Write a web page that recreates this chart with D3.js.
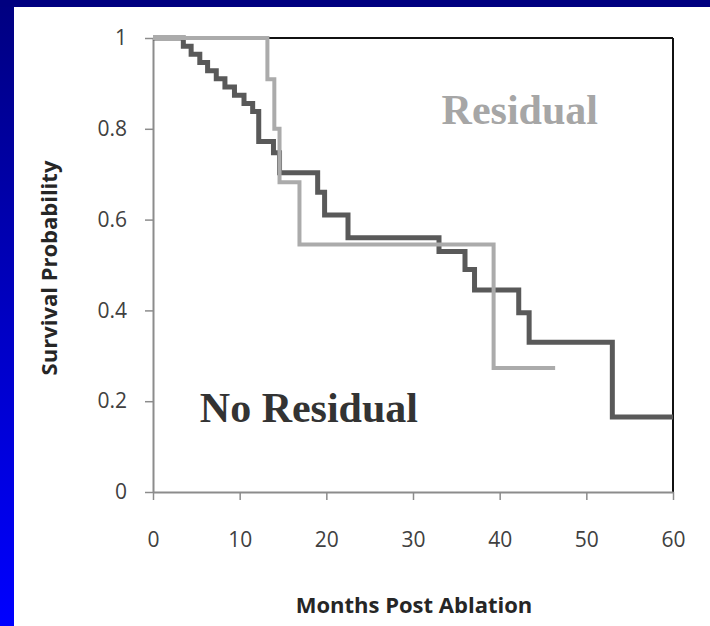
<!DOCTYPE html>
<html>
<head>
<meta charset="utf-8">
<script src="https://cdn.jsdelivr.net/npm/d3@7"></script>
<style>
  body { margin: 0; background: #fff; }
  svg { display: block; }
</style>
</head>
<body>
<div id="chart"></div>
<script>
// survival curves (months, probability after each step)
const noResidualMonths = [0, 3.5, 4.4, 5.4, 6.3, 7.3, 8.3, 9.4, 10.5, 11.5, 12.2, 13.9, 14.6, 19.0, 19.8, 22.5, 33.0, 36.0, 37.1, 42.2, 43.4, 53.0, 60];
const noResidualSurv   = [1, 0.982, 0.964, 0.946, 0.928, 0.91, 0.892, 0.874, 0.856, 0.838, 0.772, 0.747, 0.703, 0.66, 0.61, 0.56, 0.53, 0.49, 0.445, 0.395, 0.33, 0.165, 0.165];
const residualMonths = [0, 13.2, 14.0, 14.6, 16.9, 39.3, 46.4];
const residualSurv   = [1, 0.909, 0.8, 0.682, 0.545, 0.273, 0.273];

const xTicks = [0, 10, 20, 30, 40, 50, 60];
const yTicks = [0, 0.2, 0.4, 0.6, 0.8, 1];
const xAxisTitle = "Months Post Ablation";
const yAxisTitle = "Survival Probability";

const W = 710, H = 626;
const margin = {top: 38, right: 37, bottom: 134, left: 153};
const width = W - margin.left - margin.right;
const height = H - margin.top - margin.bottom;

const svg = d3.select("#chart").append("svg")
  .attr("width", W)
  .attr("height", H);

// slide frame: navy band on top, blue gradient bar on the left
const grad = svg.append("defs").append("linearGradient")
  .attr("id", "sideBar")
  .attr("x1", 0).attr("y1", 0).attr("x2", 0).attr("y2", 1);
grad.append("stop").attr("offset", "0%").attr("stop-color", "#000080");
grad.append("stop").attr("offset", "55%").attr("stop-color", "#0000c8");
grad.append("stop").attr("offset", "100%").attr("stop-color", "#0000ff");

svg.append("rect").attr("x", 0).attr("y", 0).attr("width", 14).attr("height", H).attr("fill", "url(#sideBar)");
svg.append("rect").attr("x", 0).attr("y", 0).attr("width", W).attr("height", 7).attr("fill", "#000080");

const g = svg.append("g")
  .attr("transform", `translate(${margin.left},${margin.top})`);

const x = d3.scaleLinear().domain([0, 60]).range([0, width]);
const y = d3.scaleLinear().domain([0, 1]).range([height, 0]);

// black frame top and right
g.append("line")
  .attr("x1", 0).attr("x2", width).attr("y1", 0).attr("y2", 0)
  .attr("stroke", "#111").attr("stroke-width", 2);
g.append("line")
  .attr("x1", width).attr("x2", width).attr("y1", 0).attr("y2", height)
  .attr("stroke", "#111").attr("stroke-width", 2);

const tickFont = "'Open Sans', 'DejaVu Sans', sans-serif";

const xAxis = g.append("g")
  .attr("transform", `translate(0,${height})`)
  .call(d3.axisBottom(x).tickValues(xTicks).tickSize(8).tickSizeOuter(0).tickPadding(32));

const yAxis = g.append("g")
  .call(d3.axisLeft(y).tickValues(yTicks).tickSize(8).tickSizeOuter(0).tickPadding(18)
    .tickFormat(d => (d === 0 || d === 1) ? d : d.toFixed(1)));

[xAxis, yAxis].forEach(a => {
  a.select(".domain").attr("stroke", "#8c8c8c").attr("stroke-width", 2);
  a.selectAll(".tick line").attr("stroke", "#8c8c8c").attr("stroke-width", 1.5);
  a.selectAll(".tick text")
    .attr("fill", "#404040")
    .attr("font-family", tickFont)
    .attr("font-size", 21);
});

// step curves
const toPoints = (months, surv) => months.map((m, i) => [m, surv[i]]);
const step = d3.line()
  .x(d => x(d[0]))
  .y(d => y(d[1]))
  .curve(d3.curveStepAfter);

g.append("path")
  .datum(toPoints(noResidualMonths, noResidualSurv))
  .attr("fill", "none")
  .attr("stroke", "#595959")
  .attr("stroke-width", 5)
  .attr("d", step);

g.append("path")
  .datum(toPoints(residualMonths, residualSurv))
  .attr("fill", "none")
  .attr("stroke", "#ababab")
  .attr("stroke-width", 4)
  .attr("d", step);

// group labels
g.append("text")
  .attr("x", x(33.3))
  .attr("y", y(0.81))
  .attr("font-family", "'Liberation Serif', 'Times New Roman', serif")
  .attr("font-weight", "bold")
  .attr("font-size", 42)
  .attr("fill", "#a6a6a6")
  .text("Residual");

g.append("text")
  .attr("x", x(5.4))
  .attr("y", y(0.154))
  .attr("font-family", "'Liberation Serif', 'Times New Roman', serif")
  .attr("font-weight", "bold")
  .attr("font-size", 42)
  .attr("fill", "#333")
  .text("No Residual");

// axis titles
svg.append("text")
  .attr("x", margin.left + width / 2 + 1)
  .attr("y", 613)
  .attr("text-anchor", "middle")
  .attr("font-family", tickFont)
  .attr("font-weight", "bold")
  .attr("font-size", 22)
  .attr("fill", "#262626")
  .text(xAxisTitle);

svg.append("text")
  .attr("transform", "translate(57,268) rotate(-90)")
  .attr("text-anchor", "middle")
  .attr("font-family", tickFont)
  .attr("font-weight", "bold")
  .attr("font-size", 22)
  .attr("fill", "#262626")
  .text(yAxisTitle);
</script>
</body>
</html>
